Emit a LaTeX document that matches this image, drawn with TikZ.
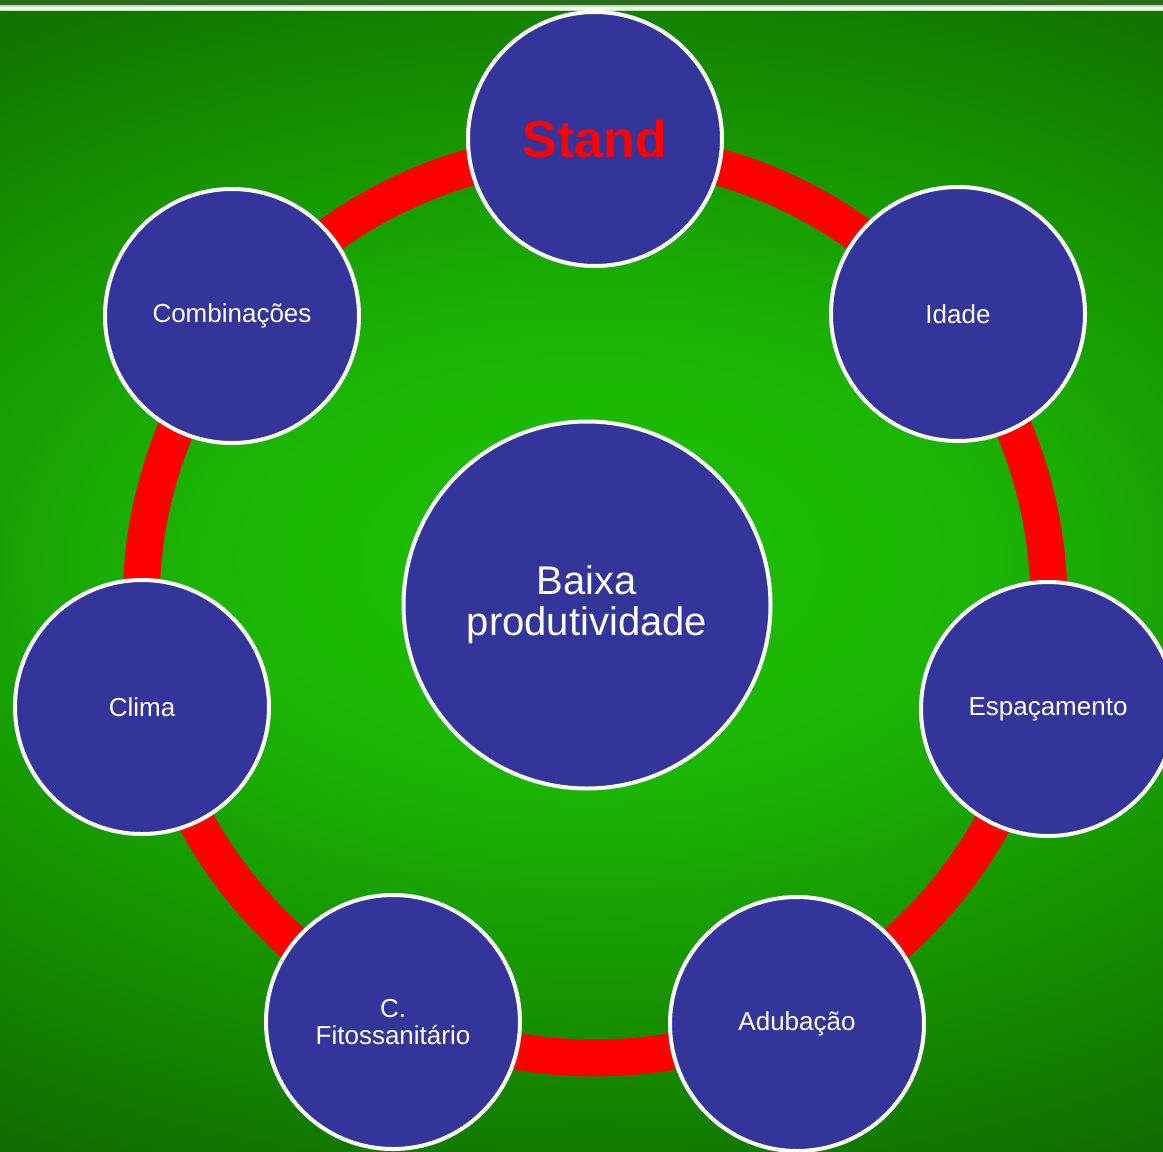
\documentclass[tikz,border=0pt]{standalone}
\usepackage{fontspec}
\setmainfont{Liberation Sans}
\usepackage{tikz}

\definecolor{bluefill}{HTML}{34359A}
\definecolor{bgin}{HTML}{1DBF04}
\definecolor{bgmid}{HTML}{1BB604}
\definecolor{bgside}{HTML}{158C00}
\definecolor{bgout}{HTML}{0D5E00}
\definecolor{topband}{HTML}{2A6A1C}
\definecolor{paleline}{HTML}{B8E8A8}

\pgfdeclareradialshading{greenbg}{\pgfpoint{0bp}{0bp}}{color(0bp)=(bgin); color(8.5bp)=(bgmid); color(19bp)=(bgside); color(30bp)=(bgout); color(100bp)=(bgout)}

\begin{document}
\begin{tikzpicture}[x=1pt,y=-1pt,
  bubble/.style={circle, fill=bluefill, draw=white, line width=4pt, minimum size=254pt, inner sep=0pt, text=white, align=center, font=\fontsize{26}{27}\selectfont},
  bigbubble/.style={bubble, minimum size=367pt, font=\fontsize{40}{41}\selectfont},
  ringline/.style={draw=red, line width=37pt}]
\useasboundingbox (0,0) rectangle (1163,1152);
% background
\begin{scope}
\clip (0,0) rectangle (1163,1152);
\begin{scope}[transform canvas={shift={(590,560)}, yscale=0.58}]
\shade[shading=greenbg] (-1100,-1100) rectangle (1100,1100);
\end{scope}
\fill[topband] (0,0) rectangle (1163,5);
\fill[paleline] (0,5) rectangle (1163,11);
\fill[white] (0,6.5) rectangle (1163,9.5);
\end{scope}
% ring
\coordinate (hub) at (595,604);
\draw[ringline] (hub) circle[radius=454pt];
% nodes
\node[bigbubble] (baixa) at (587,605) {Baixa\\produtividade};
\node[bubble, text=red, font=\fontsize{52}{52}\selectfont\bfseries] (stand) at (595,139) {Stand};
\node[bubble] (idade) at (958,314) {Idade};
\node[bubble] (espac) at (1048,709) {Espaçamento};
\node[bubble] (adub) at (797,1024) {Adubação};
\node[bubble] (fito) at (393,1022) {C.\\Fitossanitário};
\node[bubble] (clima) at (142,707) {Clima};
\node[bubble] (comb) at (232,316) {Combinações};
\end{tikzpicture}
\end{document}
